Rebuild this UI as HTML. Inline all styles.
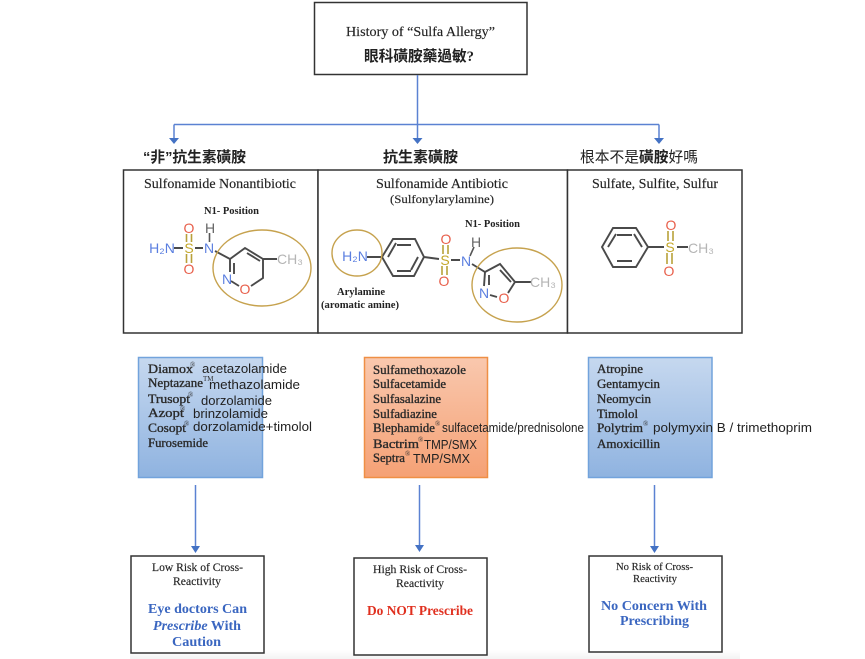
<!DOCTYPE html>
<html lang="zh-Hant">
<head>
<meta charset="utf-8">
<title>History of Sulfa Allergy</title>
<style>
html,body{margin:0;padding:0;background:#fff;width:865px;height:659px;overflow:hidden}
svg{display:block}
text{white-space:pre}
.s{font-family:"Liberation Serif","Noto Serif CJK SC",serif;fill:#222;stroke:#222;stroke-width:.15px}
.b{font-family:"Liberation Serif",serif;font-weight:bold;fill:#222}
.l{font-family:"Liberation Serif",serif;font-size:12.5px;fill:#2a2a2a;stroke:#2a2a2a;stroke-width:.35px}
.p{font-family:"Liberation Sans",sans-serif;font-size:12.5px;fill:#222}
.c{font-family:"Liberation Sans","Noto Sans CJK TC",sans-serif;font-size:15px;fill:#222}
.r{font-family:"Liberation Serif",serif;font-size:7px;fill:#333}
.h{font-family:"Liberation Serif",serif;font-size:14px;font-weight:bold;fill:#3a66c0}
.m{font-family:"Liberation Sans",sans-serif;font-size:14px;text-anchor:middle}
.box{fill:#fff;stroke:#333;stroke-width:1.5}
.bond{stroke:#4a4a4a;stroke-width:1.9;fill:none}
.ar{stroke:#5b82d2;stroke-width:1.5;fill:none}
</style>
</head>
<body>
<svg width="865" height="659" viewBox="0 0 865 659" xmlns="http://www.w3.org/2000/svg">
<defs>
<linearGradient id="blue" x1="0" y1="0" x2="0" y2="1"><stop offset="0" stop-color="#c6d8ef"/><stop offset="1" stop-color="#8fb3e0"/></linearGradient>
<linearGradient id="org" x1="0" y1="0" x2="0" y2="1"><stop offset="0" stop-color="#f9c8ae"/><stop offset="1" stop-color="#f5a175"/></linearGradient>
<linearGradient id="fade" x1="0" y1="0" x2="0" y2="1"><stop offset="0" stop-color="#fff"/><stop offset="1" stop-color="#f3f3f3"/></linearGradient>
</defs>

<rect x="130" y="650" width="610" height="9" fill="url(#fade)"/>

<!-- top -->
<rect class="box" x="314.500" y="2.500" width="212.500" height="72"/>
<text class="s" x="346" y="36" font-size="14" textLength="149" lengthAdjust="spacingAndGlyphs">History of “Sulfa Allergy”</text>
<text class="c" x="364" y="61" font-weight="bold" textLength="110" lengthAdjust="spacingAndGlyphs" style="font-family:'Liberation Serif','Noto Sans CJK TC',sans-serif">眼科磺胺藥過敏?</text>

<!-- connectors -->
<path class="ar" d="M417.500 75V138M174 124.500H659M174 124.500V138M659 124.500V138"/>
<path fill="#4472c4" d="M169 138h10l-5 6zM412.500 138h10l-5 6zM654 138h10l-5 6z"/>

<!-- headings -->
<text class="c" x="143" y="162" font-weight="bold" textLength="103" lengthAdjust="spacingAndGlyphs">“非”抗生素磺胺</text>
<text class="c" x="383" y="162" font-weight="bold" textLength="75" lengthAdjust="spacingAndGlyphs">抗生素磺胺</text>
<text class="c" x="580" y="162" textLength="118" lengthAdjust="spacingAndGlyphs">根本不是<tspan font-weight="bold">磺胺</tspan>好嗎</text>

<!-- structure panels -->
<rect class="box" x="123.500" y="170" width="194.500" height="163"/>
<rect class="box" x="318" y="170" width="249.500" height="163"/>
<rect class="box" x="567.500" y="170" width="174.500" height="163"/>

<text class="s" x="144" y="188" font-size="14" textLength="152" lengthAdjust="spacingAndGlyphs">Sulfonamide Nonantibiotic</text>
<text class="b" x="204" y="214" font-size="10.500" textLength="55" lengthAdjust="spacingAndGlyphs">N1- Position</text>
<text class="s" x="376" y="188" font-size="14" textLength="132" lengthAdjust="spacingAndGlyphs">Sulfonamide Antibiotic</text>
<text class="s" x="390" y="203" font-size="12" textLength="104" lengthAdjust="spacingAndGlyphs">(Sulfonylarylamine)</text>
<text class="b" x="465" y="227" font-size="10.500" textLength="55" lengthAdjust="spacingAndGlyphs">N1- Position</text>
<text class="b" x="337" y="295" font-size="10.500" textLength="48" lengthAdjust="spacingAndGlyphs">Arylamine</text>
<text class="b" x="321" y="308" font-size="10.500" textLength="78" lengthAdjust="spacingAndGlyphs">(aromatic amine)</text>
<text class="s" x="592" y="188" font-size="14" textLength="126" lengthAdjust="spacingAndGlyphs">Sulfate, Sulfite, Sulfur</text>

<!-- molecule 1 -->
<g>
<path class="bond" d="M174 248H183M195 248H203M215 251L230 259L245 248L263 259V278L251 286M239 286L231 281M230 259V272M234 263V274M247 253L260 261M263 259H277"/>
<path d="M186.500 234V242M191.500 234V242M186.500 254V263M191.500 254V263" stroke="#b8a13a" stroke-width="1.600" fill="none"/>
<path d="M209.500 233V242" stroke="#555" stroke-width="1.600"/>
<text class="m" x="162" y="253" fill="#5b7fe0">H₂N</text>
<text class="m" x="189" y="253" fill="#c4a82c" font-size="15">S</text>
<text class="m" x="189" y="233" fill="#e8604c" font-size="15">O</text>
<text class="m" x="189" y="274" fill="#e8604c" font-size="15">O</text>
<text class="m" x="209" y="253" fill="#5b7fe0">N</text>
<text class="m" x="210" y="233" fill="#666">H</text>
<text class="m" x="227" y="284" fill="#5b7fe0">N</text>
<text class="m" x="245" y="294" fill="#e8604c" font-size="15">O</text>
<text class="m" x="290" y="264" fill="#b5b5b5">CH₃</text>
<ellipse cx="262" cy="268" rx="49" ry="38" fill="none" stroke="#c6a24e" stroke-width="1.400"/>
</g>

<!-- molecule 2 -->
<g>
<path class="bond" d="M367 257H382L393 239H415L424 257L414 276H393L382 257M397 245H411M397 271H411M388 257L396 243M418 257L411 270M424 257L439 259M451 260H460M472 264L485 272L500 264L515 282L508 293M497 297L490 295M485 272L484 286M489 275V285M500 270L511 282M515 282H531"/>
<path d="M443 245V254M448 245V254M442 266V275M447 266V275" stroke="#b8a13a" stroke-width="1.600" fill="none"/>
<path d="M470 256L474 247" stroke="#555" stroke-width="1.600"/>
<text class="m" x="355" y="261" fill="#5b7fe0">H₂N</text>
<text class="m" x="445" y="265" fill="#c4a82c" font-size="15">S</text>
<text class="m" x="446" y="244" fill="#e8604c" font-size="15">O</text>
<text class="m" x="444" y="286" fill="#e8604c" font-size="15">O</text>
<text class="m" x="466" y="266" fill="#5b7fe0">N</text>
<text class="m" x="476" y="247" fill="#666">H</text>
<text class="m" x="484" y="298" fill="#5b7fe0">N</text>
<text class="m" x="504" y="303" fill="#e8604c" font-size="15">O</text>
<text class="m" x="543" y="287" fill="#b5b5b5">CH₃</text>
<ellipse cx="357" cy="253" rx="25" ry="23" fill="none" stroke="#c6a24e" stroke-width="1.400"/>
<ellipse cx="517" cy="285" rx="45" ry="37" fill="none" stroke="#c6a24e" stroke-width="1.400"/>
</g>

<!-- molecule 3 -->
<g>
<path class="bond" d="M602 247L613 228H636L648 247L636 267H613ZM617 235H632M617 261H632M608 247L616 234M642 247L634 234M648 247L664 247M677 247H688"/>
<path d="M668 231V241M673 231V241M667 253V264M672 253V264" stroke="#b8a13a" stroke-width="1.600" fill="none"/>
<text class="m" x="670" y="252" fill="#c4a82c" font-size="15">S</text>
<text class="m" x="671" y="230" fill="#e8604c" font-size="15">O</text>
<text class="m" x="669" y="276" fill="#e8604c" font-size="15">O</text>
<text class="m" x="701" y="253" fill="#b5b5b5">CH₃</text>
</g>

<!-- drug boxes -->
<rect x="138.500" y="357.500" width="124" height="120" fill="url(#blue)" stroke="#72a3dc" stroke-width="1.500"/>
<rect x="364.500" y="357.500" width="123" height="120" fill="url(#org)" stroke="#ef8f45" stroke-width="1.500"/>
<rect x="588.500" y="357.500" width="123.500" height="120" fill="url(#blue)" stroke="#72a3dc" stroke-width="1.500"/>

<!-- left list -->
<text class="l" x="148" y="373" textLength="45" lengthAdjust="spacingAndGlyphs">Diamox</text><text class="r" x="190" y="367">®</text>
<text class="p" x="202" y="373" textLength="85" lengthAdjust="spacingAndGlyphs">acetazolamide</text>
<text class="l" x="148" y="387" textLength="55" lengthAdjust="spacingAndGlyphs">Neptazane</text><text class="r" x="203" y="381" font-size="5">TM</text>
<text class="p" x="209" y="389" textLength="91" lengthAdjust="spacingAndGlyphs">methazolamide</text>
<text class="l" x="148" y="403" textLength="42" lengthAdjust="spacingAndGlyphs">Trusopt</text><text class="r" x="188" y="397">®</text>
<text class="p" x="201" y="405" textLength="71" lengthAdjust="spacingAndGlyphs">dorzolamide</text>
<text class="l" x="148" y="417" textLength="36" lengthAdjust="spacingAndGlyphs">Azopt</text><text class="r" x="180" y="411">®</text>
<text class="p" x="193" y="418" textLength="75" lengthAdjust="spacingAndGlyphs">brinzolamide</text>
<text class="l" x="148" y="432" textLength="38" lengthAdjust="spacingAndGlyphs">Cosopt</text><text class="r" x="184" y="426">®</text>
<text class="p" x="193" y="431" textLength="119" lengthAdjust="spacingAndGlyphs">dorzolamide+timolol</text>
<text class="l" x="148" y="447" textLength="60" lengthAdjust="spacingAndGlyphs">Furosemide</text>

<!-- middle list -->
<text class="l" x="373" y="374" textLength="93" lengthAdjust="spacingAndGlyphs">Sulfamethoxazole</text>
<text class="l" x="373" y="388" textLength="73" lengthAdjust="spacingAndGlyphs">Sulfacetamide</text>
<text class="l" x="373" y="403" textLength="68" lengthAdjust="spacingAndGlyphs">Sulfasalazine</text>
<text class="l" x="373" y="418" textLength="64" lengthAdjust="spacingAndGlyphs">Sulfadiazine</text>
<text class="l" x="373" y="432" textLength="62" lengthAdjust="spacingAndGlyphs">Blephamide</text><text class="r" x="435" y="426">®</text>
<text class="p" x="442" y="432" textLength="142" lengthAdjust="spacingAndGlyphs">sulfacetamide/prednisolone</text>
<text class="l" x="373" y="448" textLength="46" lengthAdjust="spacingAndGlyphs">Bactrim</text><text class="r" x="418" y="442">®</text>
<text class="p" x="424" y="449" textLength="53" lengthAdjust="spacingAndGlyphs">TMP/SMX</text>
<text class="l" x="373" y="462" textLength="32" lengthAdjust="spacingAndGlyphs">Septra</text><text class="r" x="405" y="456">®</text>
<text class="p" x="413" y="463" textLength="57" lengthAdjust="spacingAndGlyphs">TMP/SMX</text>

<!-- right list -->
<text class="l" x="597" y="373" textLength="46" lengthAdjust="spacingAndGlyphs">Atropine</text>
<text class="l" x="597" y="388" textLength="63" lengthAdjust="spacingAndGlyphs">Gentamycin</text>
<text class="l" x="597" y="403" textLength="54" lengthAdjust="spacingAndGlyphs">Neomycin</text>
<text class="l" x="597" y="418" textLength="41" lengthAdjust="spacingAndGlyphs">Timolol</text>
<text class="l" x="597" y="432" textLength="46" lengthAdjust="spacingAndGlyphs">Polytrim</text><text class="r" x="643" y="426">®</text>
<text class="p" x="653" y="432" textLength="159" lengthAdjust="spacingAndGlyphs">polymyxin B / trimethoprim</text>
<text class="l" x="597" y="448" textLength="63" lengthAdjust="spacingAndGlyphs">Amoxicillin</text>

<!-- lower arrows -->
<path class="ar" d="M195.500 485V547M419.500 485V546M654.500 485V547"/>
<path fill="#4472c4" d="M191 546h9l-4.500 7zM415 545h9l-4.500 7zM650 546h9l-4.500 7z"/>

<!-- outcome boxes -->
<rect class="box" x="131" y="556" width="133" height="97"/>
<rect class="box" x="354" y="558" width="133" height="97"/>
<rect class="box" x="589" y="556" width="133" height="96"/>

<text class="s" x="152" y="571" font-size="12" textLength="91" lengthAdjust="spacingAndGlyphs">Low Risk of Cross-</text>
<text class="s" x="173" y="585" font-size="12" textLength="48" lengthAdjust="spacingAndGlyphs">Reactivity</text>
<text class="h" x="148" y="613" textLength="99" lengthAdjust="spacingAndGlyphs">Eye doctors Can</text>
<text class="h" x="153" y="630" textLength="88" lengthAdjust="spacingAndGlyphs"><tspan font-style="italic">Prescribe</tspan> With</text>
<text class="h" x="172" y="646" textLength="49" lengthAdjust="spacingAndGlyphs">Caution</text>

<text class="s" x="373" y="573" font-size="12" textLength="94" lengthAdjust="spacingAndGlyphs">High Risk of Cross-</text>
<text class="s" x="396" y="587" font-size="12" textLength="48" lengthAdjust="spacingAndGlyphs">Reactivity</text>
<text class="h" x="367" y="615" textLength="106" lengthAdjust="spacingAndGlyphs" style="fill:#e0301f">Do NOT Prescribe</text>

<text class="s" x="616" y="570" font-size="11" textLength="77" lengthAdjust="spacingAndGlyphs">No Risk of Cross-</text>
<text class="s" x="633" y="582" font-size="11" textLength="44" lengthAdjust="spacingAndGlyphs">Reactivity</text>
<text class="h" x="601" y="610" textLength="106" lengthAdjust="spacingAndGlyphs">No Concern With</text>
<text class="h" x="620" y="625" textLength="69" lengthAdjust="spacingAndGlyphs">Prescribing</text>
</svg>
</body>
</html>
